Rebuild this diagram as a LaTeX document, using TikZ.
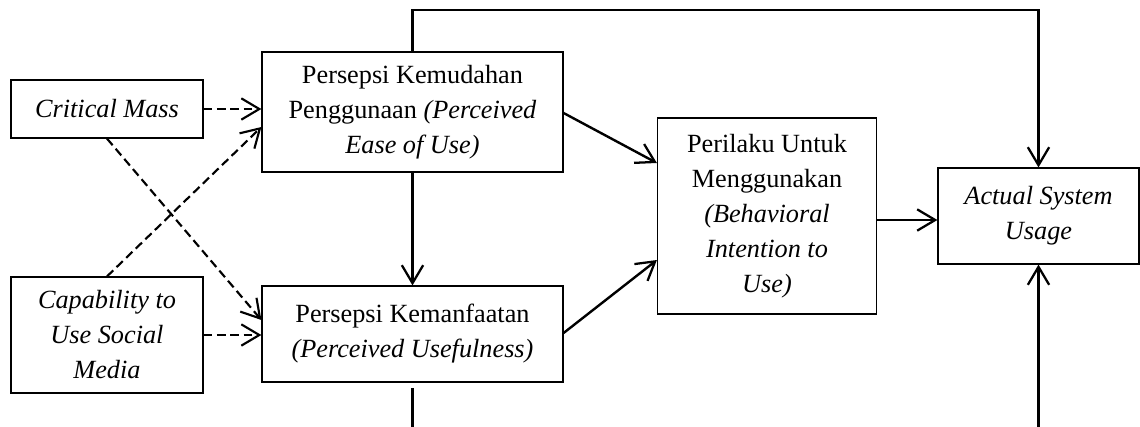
\documentclass[tikz,border=0pt]{standalone}
\usepackage{fontspec}
\setmainfont{Liberation Serif}
\usetikzlibrary{arrows.meta,calc}
\begin{document}
\begin{tikzpicture}[x=0.75pt,y=-0.75pt,
  box/.style={draw,line width=0.9pt,inner sep=0pt,align=center,
    font=\fontsize{19.7}{26.25}\selectfont},
  arr/.style={line width=1.8pt,-{Straight Barb[length=13.5pt,width=16pt,line width=1.7pt]}},
  darr/.style={line width=1.6pt,dash pattern=on 6.5pt off 3.5pt,
    -{Straight Barb[length=13.5pt,width=16pt,line width=1.6pt]}}]
\useasboundingbox (0,0) rectangle (1140,426);
\clip (0,0) rectangle (1140,426);
\node[box,minimum width=192*0.75pt,minimum height=58*0.75pt] (cm) at (107,109) {\textit{Critical Mass}};
\node[box,minimum width=192*0.75pt,minimum height=116*0.75pt] (cap) at (107,335) {\textit{Capability to}\\\textit{Use Social}\\\textit{Media}};
\node[box,minimum width=301*0.75pt,minimum height=120*0.75pt] (pkp) at (412.5,112) {Persepsi Kemudahan\\Penggunaan \textit{(Perceived}\\\textit{Ease of Use)}};
\node[box,minimum width=301*0.75pt,minimum height=96*0.75pt] (pkm) at (412.5,334) {Persepsi Kemanfaatan\\\textit{(Perceived Usefulness)}};
\node[box,minimum width=219*0.75pt,minimum height=196*0.75pt] (pu) at (767,216) {Perilaku Untuk\\Menggunakan\\\textit{(Behavioral}\\\textit{Intention to}\\\textit{Use)}};
\node[box,minimum width=201*0.75pt,minimum height=96*0.75pt] (asu) at (1038.5,216) {\textit{Actual System}\\\textit{Usage}};
\coordinate (topy) at (0,10);
\coordinate (boty) at (0,450);
% dashed
\draw[darr] (cm.east) -- (pkp.west |- cm.east);
\draw[darr] (cap.east) -- (pkm.west |- cap.east);
\draw[darr] (cap.north) -- ($(pkp.west)+(0,15)$);
\draw[darr] (cm.south) -- ($(pkm.west)+(0,-14)$);
% solid
\draw[arr] (pkp.south) -- (pkm.north);
\draw[arr] ($(pkp.east)+(0,1)$) -- ($(pu.west)+(0,-53)$);
\draw[arr] ($(pkm.east)+(0,-1)$) -- ($(pu.west)+(0,44)$);
\draw[arr] ($(pu.east)+(0,4)$) -- ($(asu.west)+(0,4)$);
\draw[arr] (pkp.north) -- (pkp.north |- topy) -| (asu.north);
\draw[arr,shorten <=4pt] (pkm.south) -- (pkm.south |- boty) -| (asu.south);
\end{tikzpicture}
\end{document}
